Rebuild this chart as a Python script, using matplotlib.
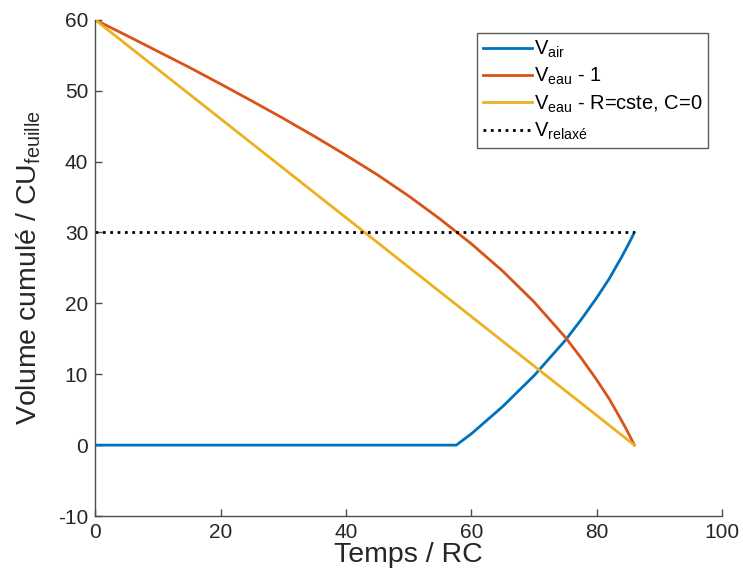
import matplotlib
matplotlib.use("Agg")
import matplotlib.pyplot as plt

plt.rcParams['font.family'] = ['Liberation Sans', 'DejaVu Sans']
plt.rcParams['mathtext.fontset'] = 'custom'
plt.rcParams['mathtext.rm'] = 'Liberation Sans'
plt.rcParams['mathtext.it'] = 'Liberation Sans'
plt.rcParams['axes.unicode_minus'] = False

# V_eau - 1 (courbe orange)
t_eau = [0, 5, 10, 15, 20, 25, 30, 35, 40, 45, 50, 55, 60, 65, 70, 75, 77.5, 80, 82, 84, 85, 86]
v_eau = [60, 57.8, 55.55, 53.3, 50.95, 48.55, 46.1, 43.55, 40.9, 38.15, 35.15, 31.9, 28.4, 24.55,
         20.2, 15.2, 12.3, 9.2, 6.5, 3.4, 1.75, 0]

# V_air (courbe bleue)
t_air = [0, 57.6, 60, 65, 70, 75, 77.5, 80, 82, 84, 85, 86]
v_air = [0, 0, 1.6, 5.45, 9.8, 14.8, 17.7, 20.8, 23.5, 26.6, 28.25, 30]

# V_eau - R=cste, C=0 (droite jaune)
t_lin = [0, 86]
v_lin = [60, 0]

# V_relaxé
t_rel = [0, 86]
v_rel = [30, 30]

fig = plt.figure(figsize=(7.43, 5.71), dpi=100)
ax = fig.add_axes([0.128, 0.0963, 0.844, 0.869])

ax.plot(t_air, v_air, color='#0072BD', lw=2, label=r'$\mathregular{V_{air}}$')
ax.plot(t_eau, v_eau, color='#D95319', lw=2, label=r'$\mathregular{V_{eau}}$ - 1')
ax.plot(t_lin, v_lin, color='#EDB120', lw=2, label=r'$\mathregular{V_{eau}}$ - R=cste, C=0')
ax.plot(t_rel, v_rel, color='black', lw=2, ls=':', label=r'$\mathregular{V_{relaxé}}$')

ax.set_xlim(0, 100)
ax.set_ylim(-10, 60)
ax.set_xticks([0, 20, 40, 60, 80, 100])
ax.set_yticks([-10, 0, 10, 20, 30, 40, 50, 60])

for s in ['top', 'right']:
    ax.spines[s].set_visible(False)
for s in ['left', 'bottom']:
    ax.spines[s].set_color('#4d4d4d')
    ax.spines[s].set_linewidth(1)
ax.tick_params(direction='in', length=5, width=1, color='#4d4d4d', labelsize=15, labelcolor='#262626', pad=5)

ax.set_xlabel('Temps / RC', fontsize=20.5, color='#262626', labelpad=0)
ax.set_ylabel(r'Volume cumulé / CU$_\mathregular{feuille}$', fontsize=20.5, color='#262626', labelpad=11)

leg = ax.legend(loc='upper right', bbox_to_anchor=(0.978, 0.974), borderaxespad=0, fontsize=14.5,
                frameon=True, fancybox=False, handlelength=2.4, handletextpad=0.1, borderpad=0.3,
                labelspacing=0.3)
leg.get_frame().set_edgecolor('#333333')
leg.get_frame().set_linewidth(1)

fig.savefig('out.png', dpi=100)
